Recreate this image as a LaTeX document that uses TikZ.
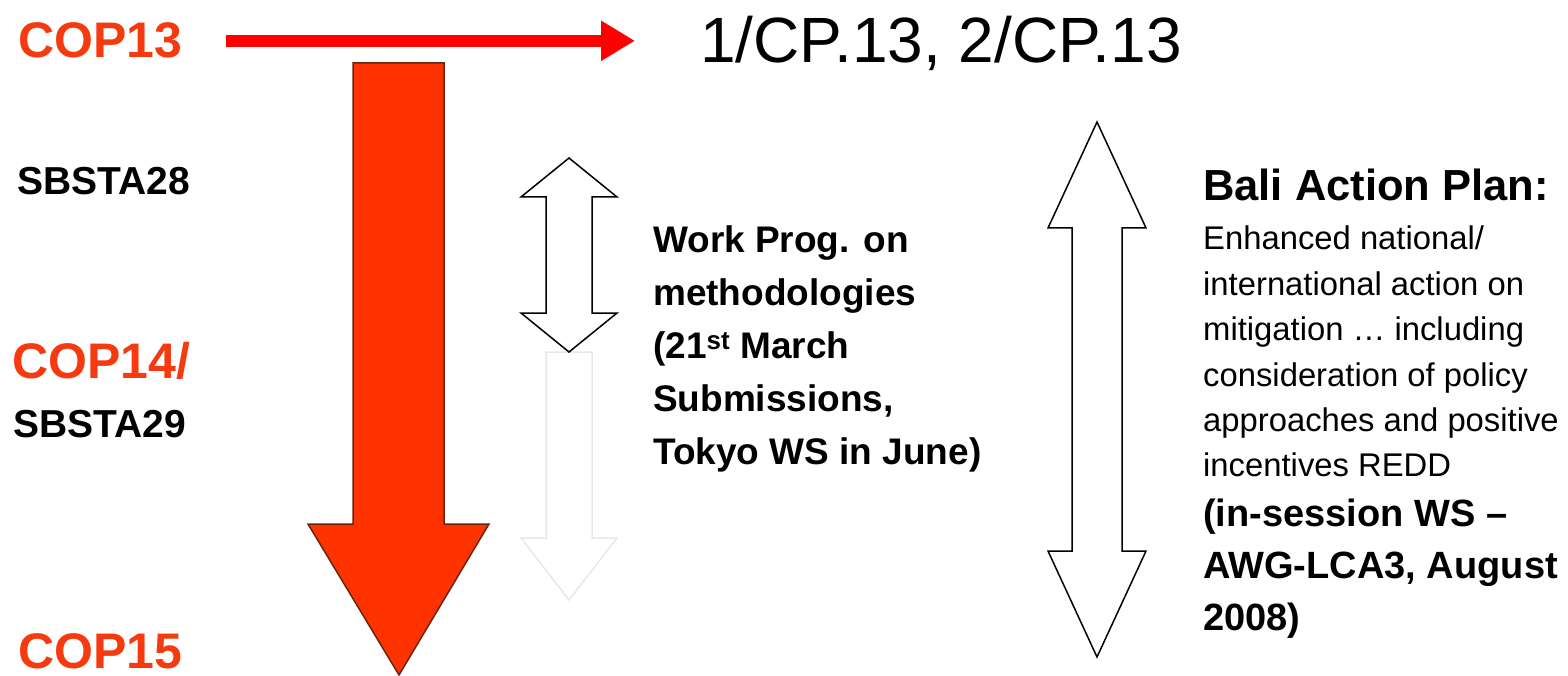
\documentclass[tikz,border=0pt]{standalone}
\usepackage{fontspec}
\setmainfont{Liberation Sans}
\usetikzlibrary{arrows.meta}
\definecolor{copred}{HTML}{F63A10}
\definecolor{bigred}{HTML}{FF3300}
\definecolor{bigedge}{HTML}{6A2410}
\definecolor{linered}{HTML}{FF0000}
\definecolor{faintgray}{HTML}{E8E8E8}

\begin{document}
\begin{tikzpicture}
[x=1pt,y=-1pt,
  copdecorate/.style={anchor=base west,inner sep=0pt,text=copred,%
    font=\fontsize{50}{60}\selectfont\bfseries},%
  sbdecorate/.style={anchor=base west,inner sep=0pt,%
    font=\fontsize{39}{47}\selectfont\bfseries},%
  blockdecorate/.style={draw=black,line width=1.5pt,fill=white},%
  linedecorate/.style={draw=linered,line width=12pt,%
    -{Triangle[length=34pt,width=38pt]}}]
\useasboundingbox (0,0) rectangle (1568,676);
%% left column
\node (cop13) at (18,58) [copdecorate] {COP13};
\node (sbsta28) at (17,195) [sbdecorate] {SBSTA28};
\node (cop14) at (12,378) [copdecorate] {COP14/};
\node (sbsta29) at (13,437) [sbdecorate] {SBSTA29};
\node (cop15) at (18,668) [copdecorate] {COP15};
%% decisions
\node (decisions) at (700,63) [anchor=base west,inner sep=0pt,%
  font=\fontsize{64}{70}\selectfont] {1/CP.13, 2/CP.13};
\draw[linedecorate] ([xshift=44pt]cop13.east) -- ([xshift=-65pt]decisions.west |- cop13.east);
%% big red arrow
\draw[fill=bigred,draw=bigedge,line width=1.5pt]
  (353,63) -- (444,63) -- (444,524) -- (489,524) -- (399,675)
  -- (308,524) -- (353,524) -- cycle;
%% faint arrow
\draw[draw=faintgray,line width=1.5pt]
  (546,352) -- (592,352) -- (592,538) -- (617,538) -- (569,600)
  -- (521,538) -- (546,538) -- cycle;
%% double arrows
\foreach \cx/\ya/\yb/\hl/\hw/\sw in {569/158/352/39/48/23, 1097/122/657/106/49/25} {
  \draw[blockdecorate] (\cx,\ya) -- ({\cx+\hw},{\ya+\hl}) -- ({\cx+\sw},{\ya+\hl})
    -- ({\cx+\sw},{\yb-\hl}) -- ({\cx+\hw},{\yb-\hl}) -- (\cx,\yb)
    -- ({\cx-\hw},{\yb-\hl}) -- ({\cx-\sw},{\yb-\hl}) -- ({\cx-\sw},{\ya+\hl})
    -- ({\cx-\hw},{\ya+\hl}) -- cycle;
}
%% texts
\node (workprog) at (653,225.5) [anchor=north west,inner sep=0pt,align=left,%
  font=\fontsize{37}{53}\selectfont\bfseries]
  {Work Prog. on\\methodologies\\(21\textsuperscript{st} March\\Submissions,\\Tokyo WS in June)};
\node (bali) at (1203,201) [anchor=base west,inner sep=0pt,%
  font=\fontsize{43.5}{50}\selectfont\bfseries] {Bali Action Plan:};
\node (baplan) at (1203,226) [anchor=north west,inner sep=0pt,align=left,%
  font=\fontsize{32.8}{45.4}\selectfont]
  {Enhanced national/\\international action on\\mitigation … including\\consideration of policy\\approaches and positive\\incentives REDD};
\node (awg) at (1203,499) [anchor=north west,inner sep=0pt,align=left,%
  font=\fontsize{38}{52}\selectfont\bfseries]
  {(in-session WS –\\AWG-LCA3, August\\2008)};
\end{tikzpicture}
\end{document}
